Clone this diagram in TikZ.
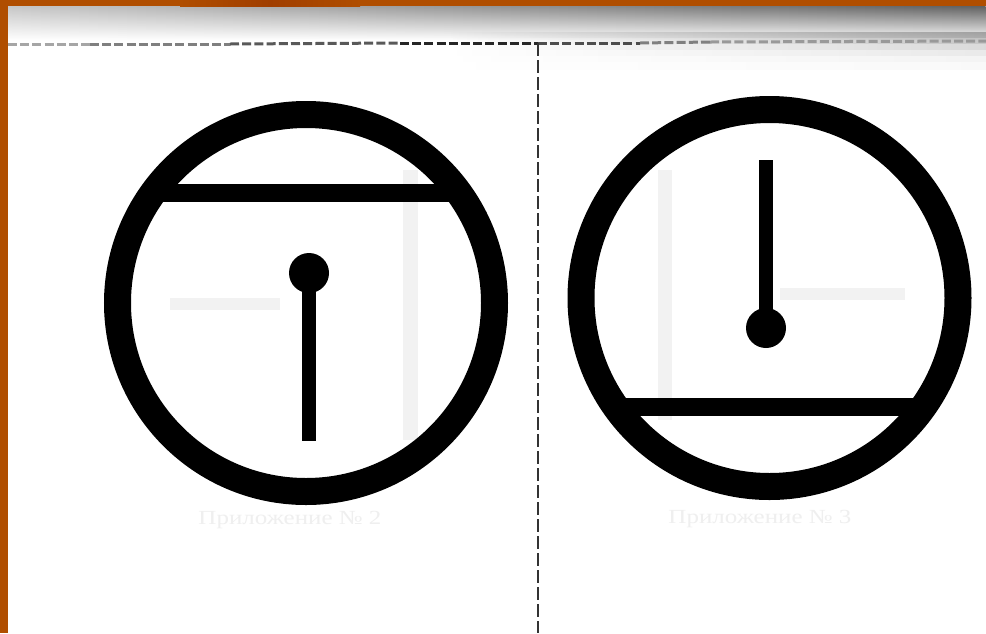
\documentclass[tikz,border=0pt]{standalone}
\usepackage{fontspec}
\setmainfont{Liberation Serif}
\usetikzlibrary{fadings}
\definecolor{frameorange}{HTML}{B04E00}
\definecolor{frameorangedark}{HTML}{A03E00}
\definecolor{ghost}{HTML}{EFEFEF}
\tikzset{
  x=1pt,y=-1pt,
  ring/.style={draw=black,line width=27pt,fill=none,circle,minimum size=377pt,inner sep=0pt},
  pin/.style={fill=black,circle,minimum size=40pt,inner sep=0pt},
  chord/.style={draw=black,line width=18pt},
  stem/.style={draw=black,line width=14pt},
  topfold/.style={line width=3pt,dash pattern=on 9pt off 3.2pt},
  sidefold/.style={draw=black!80,line width=1.8pt,dash pattern=on 13pt off 4pt},
  ghosttext/.style={text=ghost,font=\fontsize{20}{20}\selectfont,xscale=1.25},
  ghostbar/.style={fill=black!5}
}
\begin{document}
\begin{tikzpicture}
\useasboundingbox (0,0) rectangle (986,633);
\fill[white] (0,0) rectangle (986,633);
% top shading, darker and deeper to the right
\shade[left color=black!22,right color=black!62,path fading=south] (8,6) rectangle (986,40);
\foreach \ya/\yb/\op in {32/38/.55,38/44/.40,44/50/.26,50/56/.15,56/62/.08,62/70/.04}
  \fill[black!55,opacity=\op,path fading=west] (450,\ya) rectangle (986,\yb);
% frame
\fill[frameorange] (0,0) rectangle (986,6);
\fill[frameorange] (0,0) rectangle (8,633);
\shade[left color=frameorange,right color=frameorangedark] (180,0) rectangle (270,6);
\shade[left color=frameorangedark,right color=frameorange] (270,0) rectangle (360,6);
% show-through marks
\fill[ghostbar] (403,170) rectangle (418,440);
\fill[ghostbar] (658,170) rectangle (672,420);
\fill[ghostbar] (170,298) rectangle (280,310);
\fill[ghostbar] (780,288) rectangle (905,300);
\node[ghosttext] (gl) at (290,520) {Приложение № 2};
\node[ghosttext] (gr) at (760,519) {Приложение № 3};
% fold lines
\coordinate (hl) at (8,44);
\coordinate (h1) at (90,44);
\coordinate (h2) at (230,44);
\coordinate (h3) at (400,43);
\coordinate (hm) at (538,43);
\coordinate (h4) at (640,43);
\coordinate (h5) at (710,42);
\coordinate (hr) at (986,41);
\coordinate (vb) at (538,633);
\draw[topfold,black!35] (hl) -- (h1);
\draw[topfold,black!50] (h1) -- (h2);
\draw[topfold,black!65] (h2) -- (h3);
\draw[topfold,black!85] (h3) -- (hm);
\draw[topfold,black!70] (hm) -- (h4);
\draw[topfold,black!50] (h4) -- (h5);
\draw[topfold,black!40] (h5) -- (hr);
\draw[sidefold] (hm) -- (vb);
% left dial
\node[ring] (c1) at (306,303) {};
\coordinate (c1a) at (160,193);
\coordinate (c1b) at (456,193);
\draw[chord] (c1a) -- (c1b);
\node[pin] (p1) at (309,273) {};
\coordinate (s1) at (309,441);
\draw[stem] (p1.center) -- (s1);
% right dial
\node[ring] (c2) at (769.5,298) {};
\coordinate (c2a) at (622,407);
\coordinate (c2b) at (918,407);
\draw[chord] (c2a) -- (c2b);
\node[pin] (p2) at (766,328) {};
\coordinate (s2) at (766,160);
\draw[stem] (p2.center) -- (s2);
\end{tikzpicture}
\end{document}
